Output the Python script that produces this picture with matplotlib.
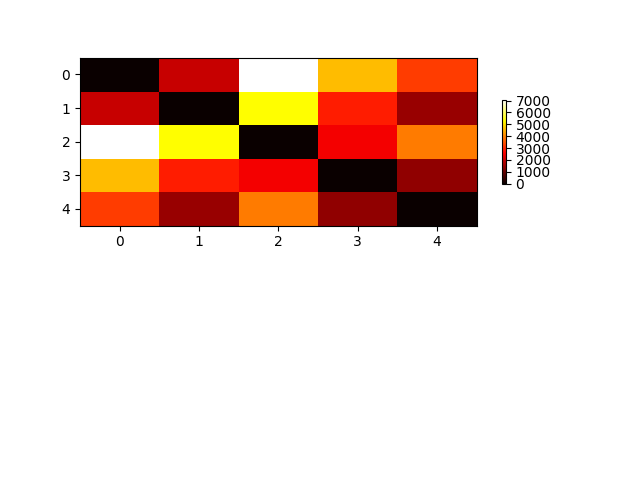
import numpy as np
import matplotlib
matplotlib.use('Agg')
import matplotlib.pyplot as plt

# matriz de distancias (simetrica)
distancias = [
    [0, 2000, 7080, 4580, 3210],
    [2000, 0, 5260, 2890, 1520],
    [7080, 5260, 0, 2470, 3890],
    [4580, 2890, 2470, 0, 1420],
    [3210, 1520, 3890, 1420, 0],
]

ticks_barra = [0, 1000, 2000, 3000, 4000, 5000, 6000, 7000]

datos = np.array(distancias)

plt.figure(figsize=(6.4, 4.8))
plt.subplot(211)
plt.imshow(datos, cmap='hot', aspect='auto')
barra = plt.colorbar(shrink=0.5)
barra.set_ticks(ticks_barra)
plt.savefig('out.png')
